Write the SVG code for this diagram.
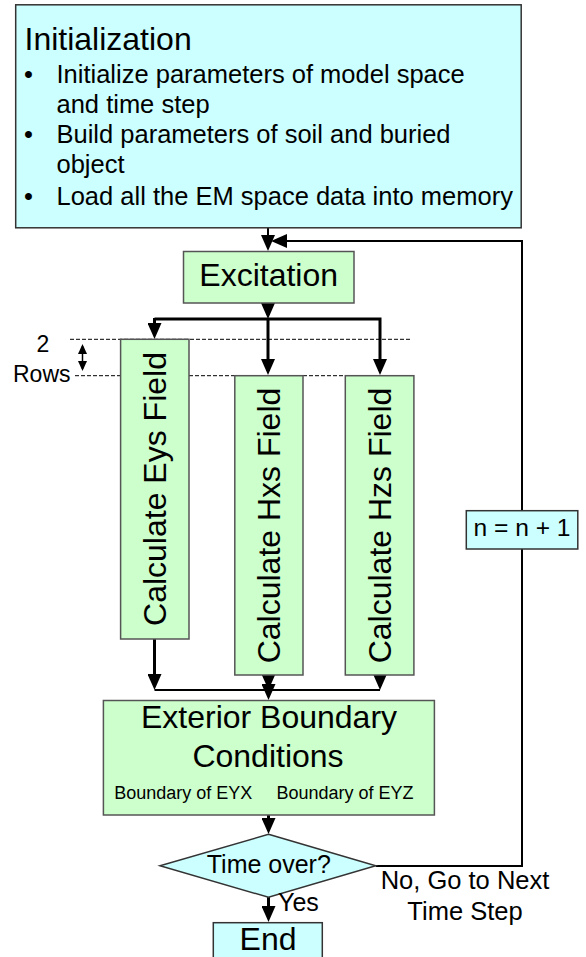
<svg xmlns="http://www.w3.org/2000/svg" width="586" height="957" viewBox="0 0 586 957">
<defs>
<style>
text{font-family:"Liberation Sans",Arial,sans-serif;fill:#000}
.cy{fill:#CCFFFF;stroke:#333;stroke-width:1.5}
.gr{fill:#CCFFCC;stroke:#555;stroke-width:1.5}
.t32{font-size:32px}
.t25{font-size:25.5px}
.t18{font-size:18px}
.mid{text-anchor:middle}
.ln{fill:none;stroke:#000;stroke-width:3;stroke-linejoin:miter}
.thin{fill:none;stroke:#000;stroke-width:2}
.dash{fill:none;stroke:#000;stroke-width:1;stroke-dasharray:4 2}
</style>
<marker id="ah" markerUnits="userSpaceOnUse" markerWidth="16" markerHeight="14" viewBox="0 0 16 14" refX="12" refY="7" orient="auto"><path d="M0,0 L16,7 L0,14 z" fill="#000"/></marker>
<marker id="sa" markerUnits="userSpaceOnUse" markerWidth="10" markerHeight="9" viewBox="0 0 10 9" refX="8" refY="4.5" orient="auto-start-reverse"><path d="M0,0 L10,4.5 L0,9 z" fill="#000"/></marker>
</defs>

<g id="connectors">
<path class="thin" d="M268,228 V247" marker-end="url(#ah)"/>
<path class="thin" d="M375.7,866 H522 V241 H275" marker-end="url(#ah)"/>
<path class="ln" d="M268,303 V315" marker-end="url(#ah)"/>
<path class="ln" d="M154.5,319 H380 V371" marker-end="url(#ah)"/>
<path class="ln" d="M154.5,318 V335" marker-end="url(#ah)"/>
<path class="ln" d="M268,319 V371" marker-end="url(#ah)"/>
<path class="ln" d="M154.5,639 V686" marker-end="url(#ah)"/>
<path class="ln" d="M268.5,675 V686" marker-end="url(#ah)"/>
<path class="ln" d="M380,675 V686" marker-end="url(#ah)"/>
<path class="thin" d="M154.5,690 H380"/>
<path class="ln" d="M268.5,690 V696" marker-end="url(#ah)"/>
<path class="ln" d="M268.5,815 V830" marker-end="url(#ah)"/>
<path class="ln" d="M268.5,897 V918" marker-end="url(#ah)"/>
<path class="dash" d="M70,339.3 H411"/>
<path class="dash" d="M75,375.7 H414"/>
<path fill="none" stroke="#000" stroke-width="1.5" d="M82.5,346 V369" marker-start="url(#sa)" marker-end="url(#sa)"/>
</g>

<g id="init">
<rect class="cy" x="15.7" y="4.8" width="505.5" height="223"/>
<text x="24.5" y="50" class="t32">Initialization</text>
<text class="t25" x="24" y="82.7">•</text>
<text class="t25" x="56.5" y="82.7">Initialize parameters of model space</text>
<text class="t25" x="56.5" y="112.7">and time step</text>
<text class="t25" x="24" y="142.7">•</text>
<text class="t25" x="56.5" y="142.7">Build parameters of soil and buried</text>
<text class="t25" x="56.5" y="173">object</text>
<text class="t25" x="24" y="205">•</text>
<text class="t25" x="56.5" y="205">Load all the EM space data into memory</text>
</g>

<g id="excitation">
<rect class="gr" x="183.5" y="251.5" width="170.5" height="51.5"/>
<text x="268.7" y="285.7" class="t32 mid">Excitation</text>
</g>

<g id="rows-label">
<text x="43" y="351.7" class="mid" font-size="23">2</text>
<text x="13" y="381.7" font-size="23">Rows</text>
</g>

<g id="eys">
<rect class="gr" x="120.6" y="339.3" width="68.4" height="299.7"/>
<text class="t32 mid" transform="translate(166,489) rotate(-90)">Calculate Eys Field</text>
</g>

<g id="hxs">
<rect class="gr" x="234.8" y="375.7" width="68.2" height="299.3"/>
<text class="t32 mid" transform="translate(280.3,525.5) rotate(-90)">Calculate Hxs Field</text>
</g>

<g id="hzs">
<rect class="gr" x="345.3" y="375.7" width="68.6" height="299.3"/>
<text class="t32 mid" transform="translate(391,525.5) rotate(-90)">Calculate Hzs Field</text>
</g>

<g id="exterior">
<rect class="gr" x="103.4" y="700.5" width="331" height="114.5"/>
<text x="269" y="728.3" class="t32 mid">Exterior Boundary</text>
<text x="268" y="767.3" class="t32 mid">Conditions</text>
<text x="114.2" y="799" class="t18">Boundary of EYX</text>
<text x="276.4" y="799" class="t18">Boundary of EYZ</text>
</g>

<g id="decision">
<polygon class="cy" points="268.5,834.3 375.7,865.7 268.5,897.3 160,865.7" stroke-width="1"/>
<text x="268.8" y="872.7" class="mid" font-size="25">Time over?</text>
<text x="278" y="911" font-size="25">Yes</text>
<text x="465" y="889.3" class="t25 mid">No, Go to Next</text>
<text x="465" y="920" class="t25 mid">Time Step</text>
</g>

<g id="increment">
<rect class="cy" x="466.3" y="510.7" width="111.5" height="38.3"/>
<text x="522" y="536" class="mid" font-size="24.6">n = n + 1</text>
</g>

<g id="end">
<rect class="cy" x="213.3" y="922.7" width="109" height="40"/>
<text x="268" y="950" class="t32 mid">End</text>
</g>
</svg>
